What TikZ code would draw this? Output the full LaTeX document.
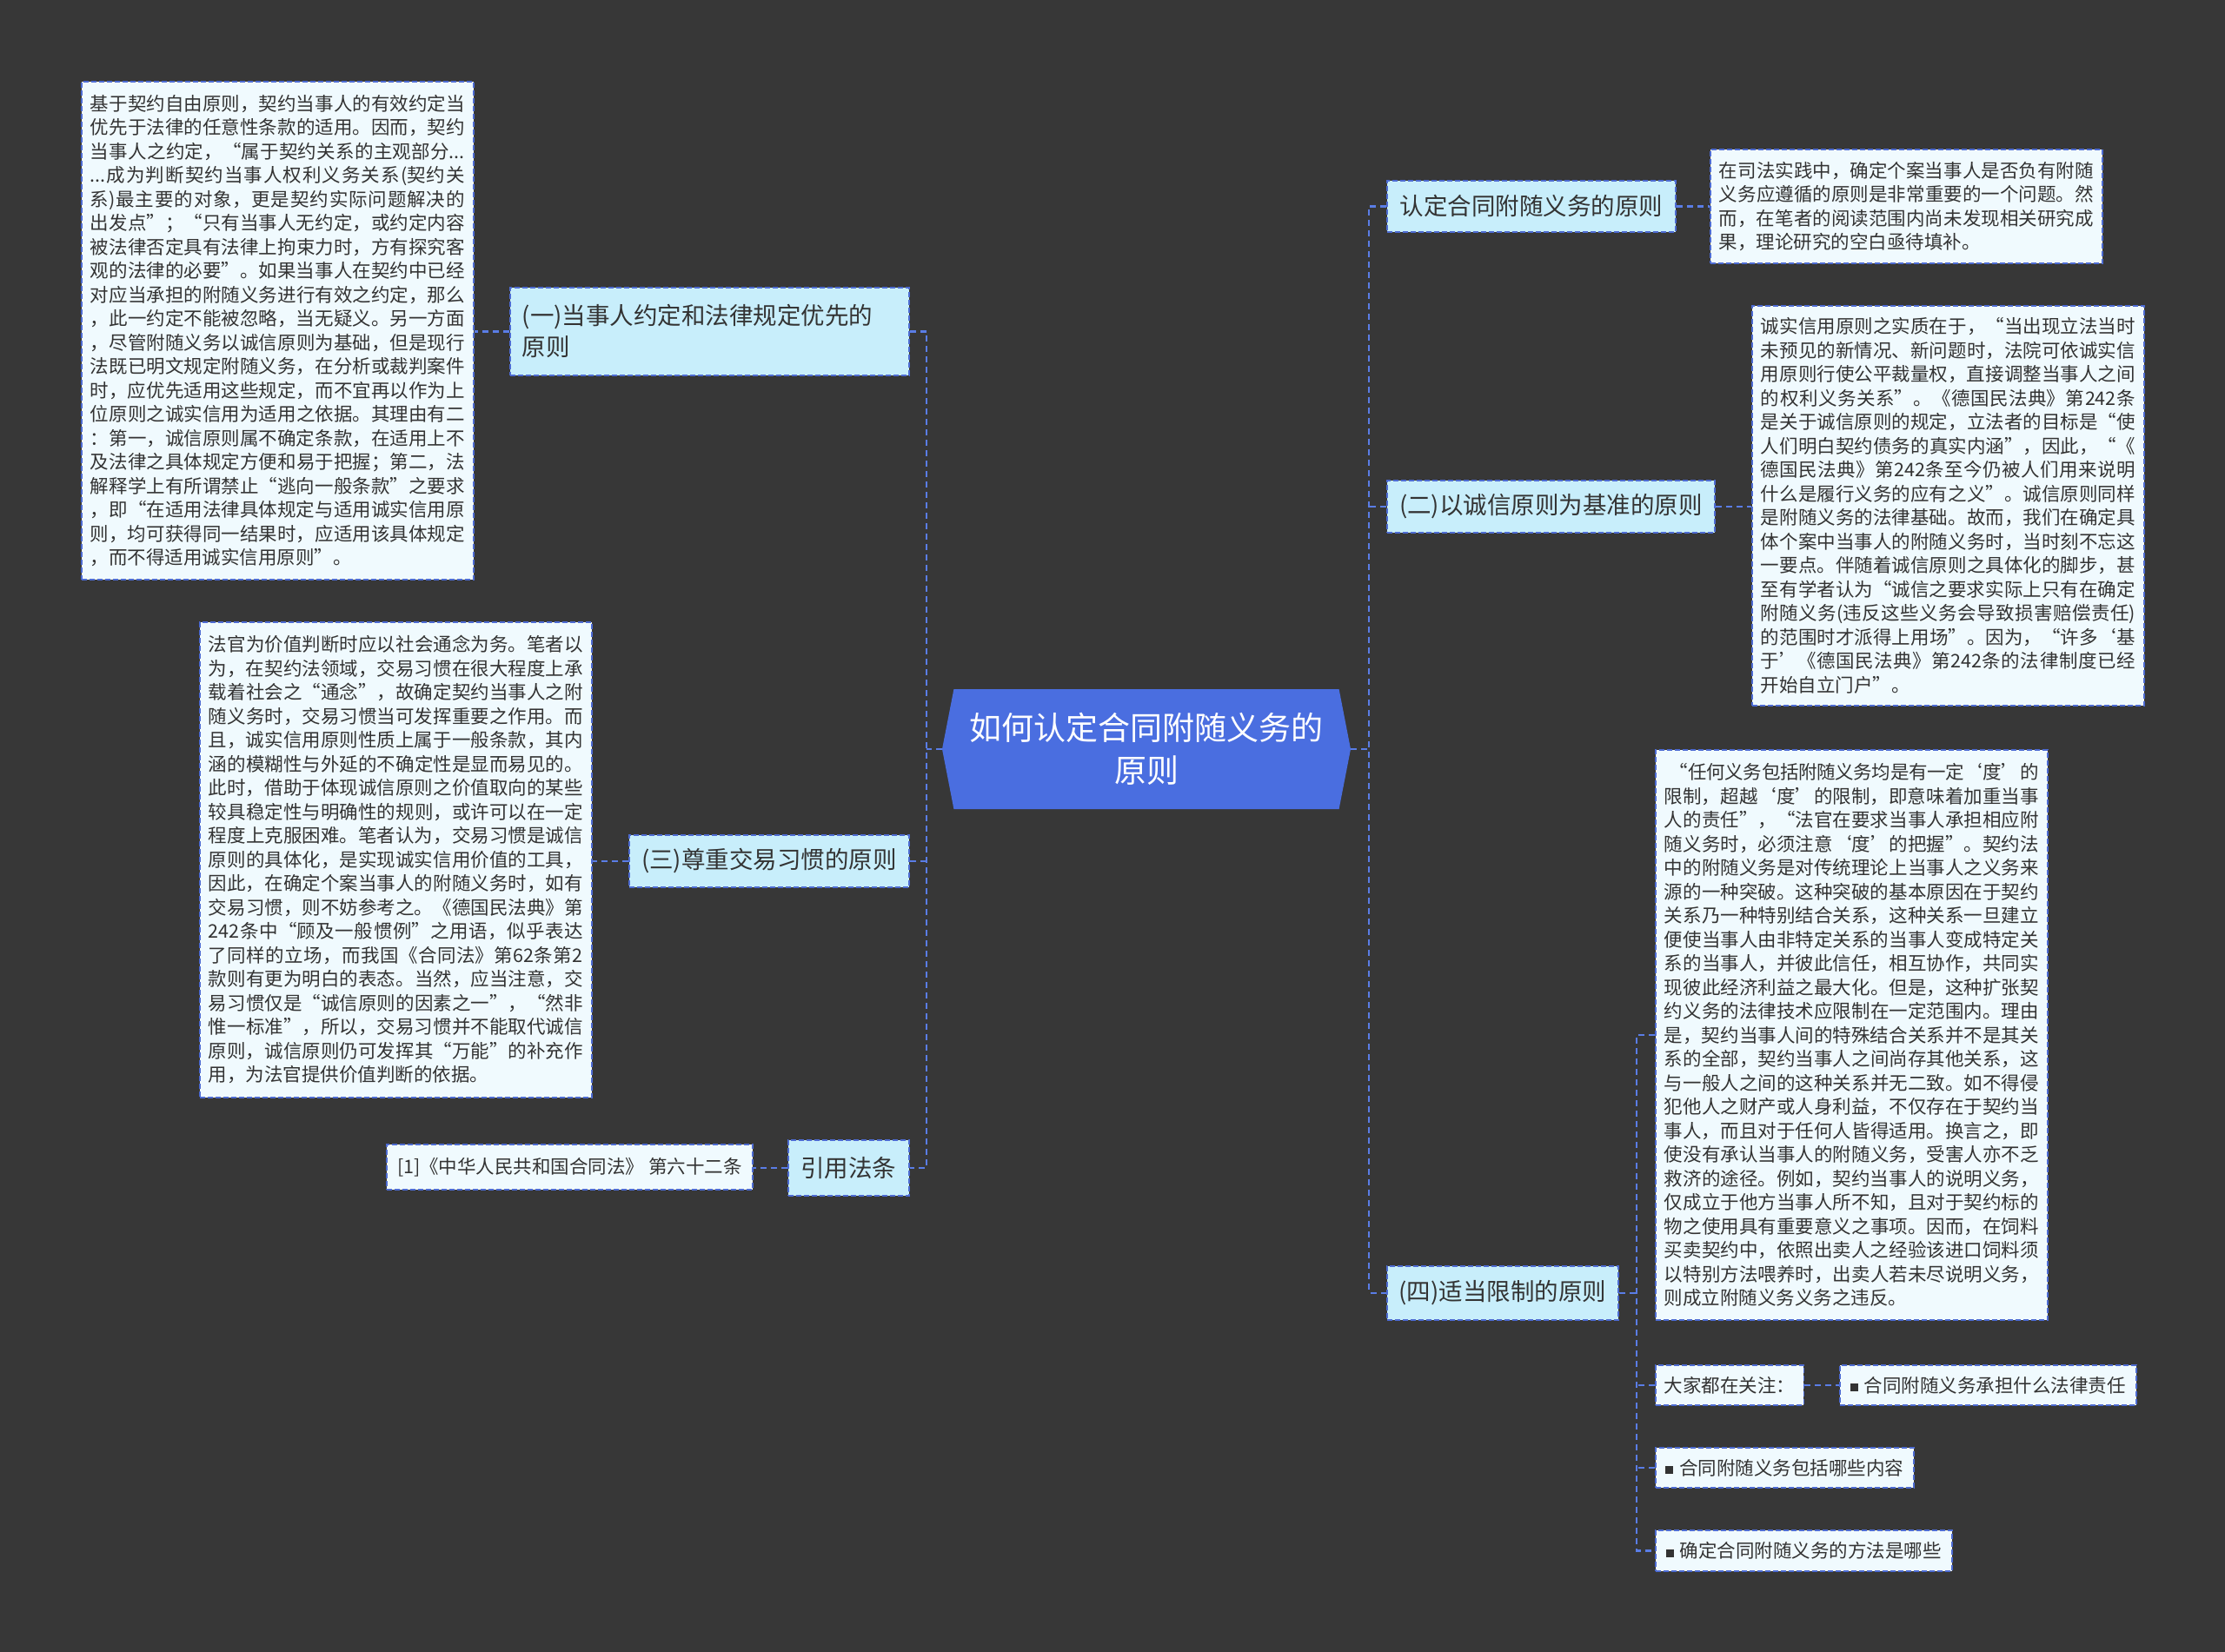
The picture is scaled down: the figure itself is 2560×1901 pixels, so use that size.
\documentclass[tikz,border=0pt]{standalone}
\usepackage{fontspec}
\setmainfont{Noto Sans CJK SC}
\usetikzlibrary{shapes.symbols}
\XeTeXlinebreaklocale "zh"
\XeTeXlinebreakskip=0pt plus 4pt minus 0.5pt
\definecolor{bg}{HTML}{373737}
\definecolor{cblue}{HTML}{4A6EE0}
\definecolor{linec}{HTML}{5A7DE6}
\definecolor{boxb}{HTML}{4D6BD2}
\definecolor{lvlf}{HTML}{C8EEFB}
\definecolor{leaff}{HTML}{F0FAFE}
\definecolor{txt}{HTML}{333333}
\newcommand\jbr{\linebreak}
\newcommand\sq{\rule[1pt]{9pt}{9pt}\hspace{7pt}}
\tikzset{
  conn/.style={draw=linec, line width=2.8pt, dash pattern=on 7pt off 5pt},
  boxline/.style={draw=boxb, line width=1.8pt, dash pattern=on 6pt off 3pt},
  leaf/.style={boxline, fill=leaff, text=txt, anchor=north west, text width=431pt,
    inner xsep=10pt, inner ysep=4pt, align=justify, font=\fontsize{21.5}{27.5}\selectfont},
  small/.style={boxline, fill=leaff, text=txt, anchor=north west, inner xsep=10pt,
    inner ysep=4pt, font=\fontsize{21.5}{27.5}\selectfont},
  lvl/.style={boxline, fill=lvlf, text=txt, anchor=north west, inner xsep=13pt,
    inner ysep=4pt, font=\fontsize{27.5}{36}\selectfont, align=left},
}
\begin{document}
\begin{tikzpicture}[x=1pt,y=-1pt]
\fill[bg] (0,0) rectangle (2560,1901);
\useasboundingbox (0,0) rectangle (2560,1901);

% central node
\node[signal, signal to=west and east, signal pointer angle=158, fill=cblue, text=white,
  minimum width=470pt, minimum height=138pt, align=center, inner sep=0pt,
  font=\fontsize{37}{49}\selectfont] (c) at (1319,862) {如何认定合同附随义务的\\原则};

% left level-1
\node[lvl, minimum width=459pt, minimum height=101pt, text width=431pt] (n1) at (586,330) {(一)当事人约定和法律规定优先的\\原则};
\node[lvl, minimum width=322pt, minimum height=60pt] (n3) at (723,960) {(三)尊重交易习惯的原则};
\node[lvl, minimum width=139pt, minimum height=64pt] (n7) at (906,1311) {引用法条};

% right level-1
\node[lvl, minimum width=332pt, minimum height=59pt] (r1) at (1595,207) {认定合同附随义务的原则};
\node[lvl, minimum width=377pt, minimum height=60pt] (r2) at (1595,552) {(二)以诚信原则为基准的原则};
\node[lvl, minimum width=266pt, minimum height=62pt] (r4) at (1595,1456) {(四)适当限制的原则};

% left leaves
\node[leaf, minimum height=573pt] (la) at (93,93) {基于契约自由原则，契约当事人的有效约定当\jbr
优先于法律的任意性条款的适用。因而，契约\jbr
当事人之约定，“属于契约关系的主观部分...\jbr
...成为判断契约当事人权利义务关系(契约关\jbr
系)最主要的对象，更是契约实际问题解决的\jbr
出发点”；“只有当事人无约定，或约定内容\jbr
被法律否定具有法律上拘束力时，方有探究客\jbr
观的法律的必要”。如果当事人在契约中已经\jbr
对应当承担的附随义务进行有效之约定，那么\jbr
，此一约定不能被忽略，当无疑义。另一方面\jbr
，尽管附随义务以诚信原则为基础，但是现行\jbr
法既已明文规定附随义务，在分析或裁判案件\jbr
时，应优先适用这些规定，而不宜再以作为上\jbr
位原则之诚实信用为适用之依据。其理由有二\jbr
：第一，诚信原则属不确定条款，在适用上不\jbr
及法律之具体规定方便和易于把握；第二，法\jbr
解释学上有所谓禁止“逃向一般条款”之要求\jbr
，即“在适用法律具体规定与适用诚实信用原\jbr
则，均可获得同一结果时，应适用该具体规定\jbr
，而不得适用诚实信用原则”。};

\node[leaf, minimum height=547pt] (lb) at (229,715) {法官为价值判断时应以社会通念为务。笔者以\jbr
为，在契约法领域，交易习惯在很大程度上承\jbr
载着社会之“通念”，故确定契约当事人之附\jbr
随义务时，交易习惯当可发挥重要之作用。而\jbr
且，诚实信用原则性质上属于一般条款，其内\jbr
涵的模糊性与外延的不确定性是显而易见的。\jbr
此时，借助于体现诚信原则之价值取向的某些\jbr
较具稳定性与明确性的规则，或许可以在一定\jbr
程度上克服困难。笔者认为，交易习惯是诚信\jbr
原则的具体化，是实现诚实信用价值的工具，\jbr
因此，在确定个案当事人的附随义务时，如有\jbr
交易习惯，则不妨参考之。《德国民法典》第\jbr
242条中“顾及一般惯例”之用语，似乎表达\jbr
了同样的立场，而我国《合同法》第62条第2\jbr
款则有更为明白的表态。当然，应当注意，交\jbr
易习惯仅是“诚信原则的因素之一”，“然非\jbr
惟一标准”，所以，交易习惯并不能取代诚信\jbr
原则，诚信原则仍可发挥其“万能”的补充作\jbr
用，为法官提供价值判断的依据。};

\node[small, minimum width=421pt, minimum height=52pt] (lc) at (444,1316) {[1]《中华人民共和国合同法》 第六十二条};

% right leaves
\node[leaf, minimum height=131pt] (rd) at (1967,171) {在司法实践中，确定个案当事人是否负有附随\jbr
义务应遵循的原则是非常重要的一个问题。然\jbr
而，在笔者的阅读范围内尚未发现相关研究成\jbr
果，理论研究的空白亟待填补。};

\node[leaf, minimum height=460pt] (re) at (2015,351) {诚实信用原则之实质在于，“当出现立法当时\jbr
未预见的新情况、新问题时，法院可依诚实信\jbr
用原则行使公平裁量权，直接调整当事人之间\jbr
的权利义务关系”。《德国民法典》第242条\jbr
是关于诚信原则的规定，立法者的目标是“使\jbr
人们明白契约债务的真实内涵”，因此，“《\jbr
德国民法典》第242条至今仍被人们用来说明\jbr
什么是履行义务的应有之义”。诚信原则同样\jbr
是附随义务的法律基础。故而，我们在确定具\jbr
体个案中当事人的附随义务时，当时刻不忘这\jbr
一要点。伴随着诚信原则之具体化的脚步，甚\jbr
至有学者认为“诚信之要求实际上只有在确定\jbr
附随义务(违反这些义务会导致损害赔偿责任)\jbr
的范围时才派得上用场”。因为，“许多‘基\jbr
于’《德国民法典》第242条的法律制度已经\jbr
开始自立门户”。};

\node[leaf, minimum height=656pt] (rf) at (1904,862) {\hspace*{6pt}“任何义务包括附随义务均是有一定‘度’的\jbr
限制，超越‘度’的限制，即意味着加重当事\jbr
人的责任”，“法官在要求当事人承担相应附\jbr
随义务时，必须注意‘度’的把握”。契约法\jbr
中的附随义务是对传统理论上当事人之义务来\jbr
源的一种突破。这种突破的基本原因在于契约\jbr
关系乃一种特别结合关系，这种关系一旦建立\jbr
便使当事人由非特定关系的当事人变成特定关\jbr
系的当事人，并彼此信任，相互协作，共同实\jbr
现彼此经济利益之最大化。但是，这种扩张契\jbr
约义务的法律技术应限制在一定范围内。理由\jbr
是，契约当事人间的特殊结合关系并不是其关\jbr
系的全部，契约当事人之间尚存其他关系，这\jbr
与一般人之间的这种关系并无二致。如不得侵\jbr
犯他人之财产或人身利益，不仅存在于契约当\jbr
事人，而且对于任何人皆得适用。换言之，即\jbr
使没有承认当事人的附随义务，受害人亦不乏\jbr
救济的途径。例如，契约当事人的说明义务，\jbr
仅成立于他方当事人所不知，且对于契约标的\jbr
物之使用具有重要意义之事项。因而，在饲料\jbr
买卖契约中，依照出卖人之经验该进口饲料须\jbr
以特别方法喂养时，出卖人若未尽说明义务，\jbr
则成立附随义务义务之违反。};

\node[small, minimum width=170pt, minimum height=46pt] (rg) at (1904,1570) {大家都在关注：};
\node[small, minimum width=341pt, minimum height=46pt] (rh) at (2116,1570) {\sq 合同附随义务承担什么法律责任};
\node[small, minimum width=297pt, minimum height=46pt] (ri) at (1904,1665) {\sq 合同附随义务包括哪些内容};
\node[small, minimum width=341pt, minimum height=47pt] (rj) at (1904,1760) {\sq 确定合同附随义务的方法是哪些};

% spine coordinates
\coordinate (lsp) at (1066,0);
\coordinate (rsp) at (1575,0);
\coordinate (fsp) at (1883,0);

% connectors
\draw[conn] (c.west) -- (c.west -| lsp);
\draw[conn] (n1.east) -- (n1.east -| lsp) -- (n7.east -| lsp) -- (n7.east);
\draw[conn] (n3.east) -- (n3.east -| lsp);
\draw[conn] (c.east) -- (c.east -| rsp);
\draw[conn] (r1.west) -- (r1.west -| rsp) -- (r4.west -| rsp) -- (r4.west);
\draw[conn] (r2.west) -- (r2.west -| rsp);
\draw[conn] (n1.west) -- (n1.west -| la.east);
\draw[conn] (n3.west) -- (n3.west -| lb.east);
\draw[conn] (n7.west) -- (n7.west -| lc.east);
\draw[conn] (r1.east) -- (r1.east -| rd.west);
\draw[conn] (r2.east) -- (r2.east -| re.west);
\draw[conn] (r4.east) -- (r4.east -| fsp);
\draw[conn] (rf.west) -- (rf.west -| fsp) -- (rj.west -| fsp) -- (rj.west);
\draw[conn] (rg.west) -- (rg.west -| fsp);
\draw[conn] (ri.west) -- (ri.west -| fsp);
\draw[conn] (rg.east) -- (rh.west);
\end{tikzpicture}
\end{document}
